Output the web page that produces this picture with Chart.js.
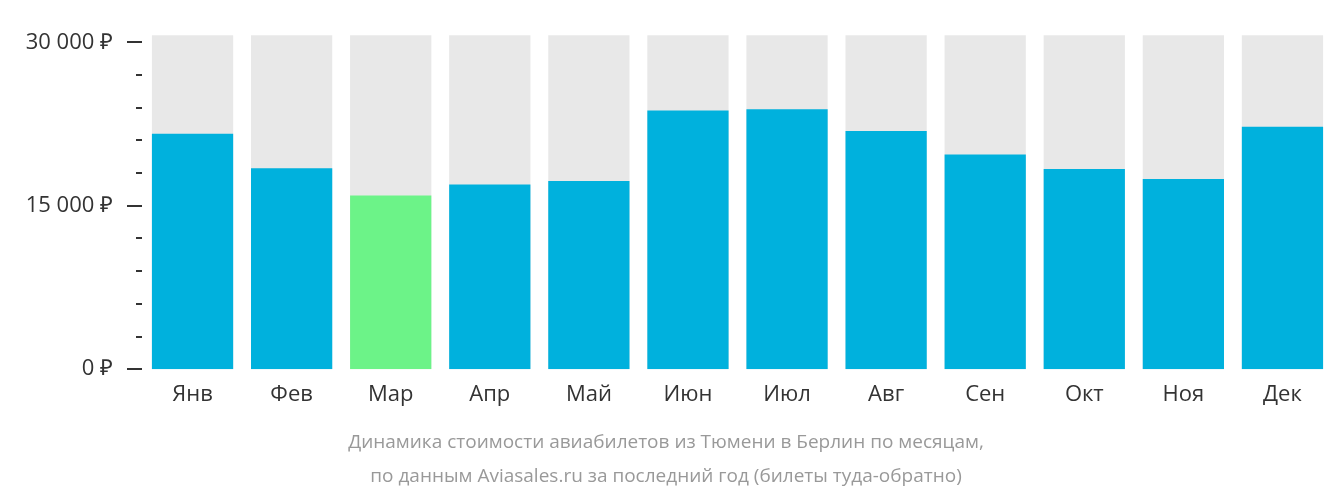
<!DOCTYPE html>
<html><head><meta charset="utf-8">
<script src="https://cdn.jsdelivr.net/npm/chart.js@4"></script>
<style>html,body{margin:0;padding:0;background:#fff}#w{width:1332px;height:502px}</style>
</head><body><div id="w"><canvas id="c"></canvas></div>
<script>
const months=["Янв","Фев","Мар","Апр","Май","Июн","Июл","Авг","Сен","Окт","Ноя","Дек"];
const prices=[21600,18450,15950,16950,17280,23750,23850,21850,19700,18380,17450,22250];
const barColors=["#00b1dd","#00b1dd","#6cf388","#00b1dd","#00b1dd","#00b1dd","#00b1dd","#00b1dd","#00b1dd","#00b1dd","#00b1dd","#00b1dd"];
const bgValues=[31000,31000,31000,31000,31000,31000,31000,31000,31000,31000,31000,31000];
const tickValues=[0,3000,6000,9000,12000,15000,18000,21000,24000,27000,30000];
const labeledTicks=[0,15000,30000];
const titleLines=["Динамика стоимости авиабилетов из Тюмени в Берлин по месяцам,","по данным Aviasales.ru за последний год (билеты туда-обратно)"];
const fmt=v=>(v===0?"0":String(v).replace(/\B(?=(\d{3})+(?!\d))/g," "))+" ₽";
const tickPlugin={id:'tk',afterDraw(ch){const s=ch.scales.y,c=ch.ctx;c.save();c.strokeStyle='#333';c.lineWidth=2;
tickValues.forEach(v=>{const y=Math.round(s.getPixelForValue(v));const major=labeledTicks.includes(v);c.beginPath();c.moveTo(major?127:136,y);c.lineTo(142,y);c.stroke();});c.restore();}};
new Chart(document.getElementById('c'),{type:'bar',
data:{labels:months,datasets:[
{data:prices,backgroundColor:barColors,categoryPercentage:0.82,barPercentage:1,grouped:false,order:0},
{data:bgValues,backgroundColor:'#e8e8e8',categoryPercentage:0.82,barPercentage:1,grouped:false,order:1}]},
options:{responsive:true,maintainAspectRatio:false,animation:false,
layout:{padding:{left:0,right:0,top:-14,bottom:8}},
plugins:{legend:{display:false},tooltip:{enabled:false},
title:{display:true,position:'bottom',text:titleLines,color:'#999',font:{family:'Open Sans',size:19,weight:'normal',lineHeight:1.8},padding:{top:14,bottom:0}}},
scales:{x:{grid:{display:false},border:{display:false},ticks:{color:'#333',font:{family:'Open Sans',size:22},padding:4}},
y:{min:0,max:30650,afterBuildTicks:a=>{a.ticks=tickValues.map(v=>({value:v}));},afterFit:a=>{a.width=143;},
grid:{display:false},border:{display:false},
ticks:{color:'#333',font:{family:'Open Sans',size:22},padding:22,autoSkip:false,callback:v=>labeledTicks.includes(v)?fmt(v):''}}}},
plugins:[tickPlugin]});
</script></body></html>
